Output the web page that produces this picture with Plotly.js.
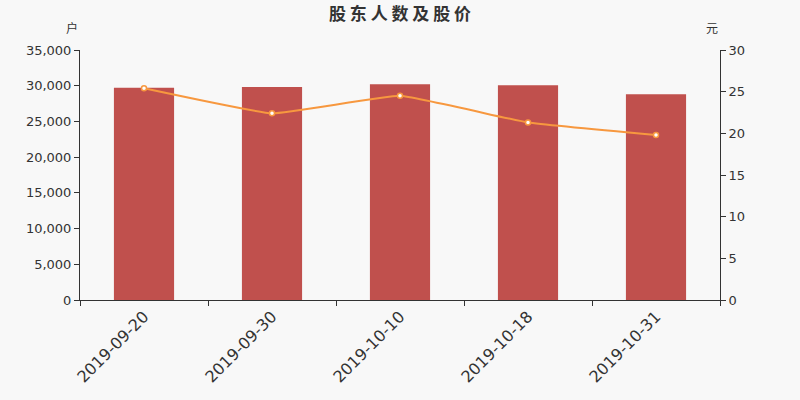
<!DOCTYPE html>
<html>
<head>
<meta charset="utf-8">
<script src="https://cdn.plot.ly/plotly-3.0.1.min.js"></script>
<style>
body{margin:0;background:#f8f8f8;}
#chart{width:800px;height:400px;}
</style>
</head>
<body>
<div id="chart"></div>
<script>
// 股东人数 (户) and 股价 (元)
var dates = ['2019-09-20','2019-09-30','2019-10-10','2019-10-18','2019-10-31'];
var holders = [29720, 29820, 30200, 30060, 28820];
var price = [25.4, 22.4, 24.5, 21.3, 19.8];

var fontFam = '"DejaVu Sans", "Noto Sans CJK SC", sans-serif';
var cjkFam = '"Noto Sans CJK SC", sans-serif';

var barTrace = {
  x: dates,
  y: holders,
  type: 'bar',
  name: '股东人数',
  width: 0.47,
  marker: {color: '#c0504d'},
  hoverinfo: 'x+y'
};

var lineTrace = {
  x: dates,
  y: price,
  type: 'scatter',
  mode: 'lines+markers',
  name: '股价',
  yaxis: 'y2',
  line: {color: '#f7983f', width: 2, shape: 'spline', smoothing: 0.3},
  marker: {color: '#ffffff', size: 5, line: {color: '#f7983f', width: 1.5}}
};

var layout = {
  width: 800,
  height: 400,
  paper_bgcolor: '#f8f8f8',
  plot_bgcolor: '#f8f8f8',
  showlegend: false,
  margin: {l: 80, r: 80, t: 50, b: 100},
  font: {family: fontFam, color: '#333', size: 13},
  title: {
    text: '股 东 人 数 及 股 价',
    x: 0.5, xanchor: 'center', y: 0.965, yanchor: 'middle',
    font: {size: 17, color: '#333', family: cjkFam, weight: 'bold'}
  },
  xaxis: {
    type: 'category',
    tickson: 'boundaries',
    ticks: 'outside',
    ticklen: 5,
    tickcolor: '#333',
    showline: true,
    linecolor: '#333',
    showgrid: false,
    tickangle: -45,
    tickfont: {size: 16, color: '#333'}
  },
  yaxis: {
    range: [0, 35000],
    dtick: 5000,
    tickformat: ',d',
    ticks: 'outside',
    ticklen: 5,
    tickcolor: '#333',
    showline: true,
    linecolor: '#333',
    showgrid: false,
    zeroline: false,
    tickfont: {size: 13, color: '#333'}
  },
  yaxis2: {
    overlaying: 'y',
    side: 'right',
    range: [0, 30],
    dtick: 5,
    ticks: 'outside',
    ticklen: 5,
    tickcolor: '#333',
    showline: true,
    linecolor: '#333',
    showgrid: false,
    zeroline: false,
    tickfont: {size: 13, color: '#333'}
  },
  annotations: [
    {text: '户', xref: 'paper', yref: 'paper', x: 0, y: 1.09, xanchor: 'right', yanchor: 'middle', showarrow: false, font: {size: 12, color: '#333', family: cjkFam}},
    {text: '元', xref: 'paper', yref: 'paper', x: 1, y: 1.09, xanchor: 'right', yanchor: 'middle', showarrow: false, font: {size: 12, color: '#333', family: cjkFam}}
  ]
};

Plotly.newPlot('chart', [barTrace, lineTrace], layout, {displayModeBar: false});
</script>
</body>
</html>
